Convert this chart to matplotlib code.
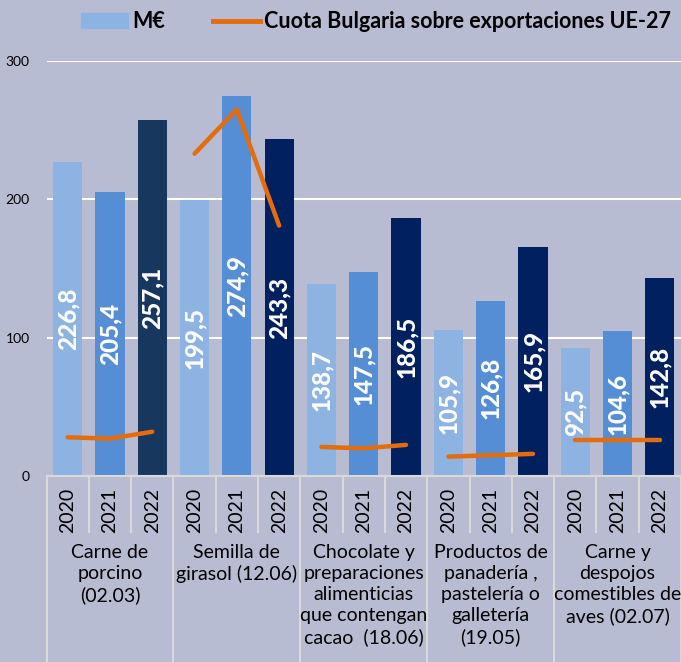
import matplotlib.pyplot as plt
import numpy as np

plt.rcParams['font.family'] = ['Lato', 'DejaVu Sans']

groups = ['Carne de\nporcino\n(02.03)',
          'Semilla de\ngirasol (12.06)',
          'Chocolate y\npreparaciones\nalimenticias\nque contengan\ncacao  (18.06)',
          'Productos de\npanadería ,\npastelería o\ngalletería\n(19.05)',
          'Carne y\ndespojos\ncomestibles de\naves (02.07)']
years = ['2020', '2021', '2022']
valores = [[226.8, 205.4, 257.1],
           [199.5, 274.9, 243.3],
           [138.7, 147.5, 186.5],
           [105.9, 126.8, 165.9],
           [92.5, 104.6, 142.8]]
cuota = [[28, 27, 32],
         [233, 265, 181],
         [21, 20, 22.5],
         [14, 15, 16],
         [26, 26, 26]]

bg = '#B8BCD2'
col_years = ['#8DB3E2', '#558ED5', '#002060']
col_first_2022 = '#17375E'
orange = '#E46C0A'
sep_col = '#D9D9D9'

fig = plt.figure(figsize=(6.81, 6.62), dpi=100)
fig.patch.set_facecolor(bg)
ax = fig.add_axes([46.5 / 681, 1 - 476 / 662, 634.5 / 681, 415 / 662])
ax.set_facecolor(bg)

for g, vals in enumerate(valores):
    xs = np.arange(3) + g * 3
    for k, v in enumerate(vals):
        c = col_years[k]
        if g == 0 and k == 2:
            c = col_first_2022
        ax.bar(xs[k], v, width=0.69, color=c, zorder=2)
        ax.text(xs[k], v / 2, f'{v:.1f}'.replace('.', ','), rotation=90,
                ha='center', va='center', color='white', fontsize=17.5,
                fontweight='black', zorder=4)
    ax.plot(xs, cuota[g], color=orange, lw=3.2, solid_capstyle='round', zorder=3)

ax.set_xlim(-0.5, 14.5)
ax.set_ylim(0, 300)
ax.set_yticks([0, 100, 200, 300])
ax.tick_params(axis='y', length=0, labelsize=10, pad=12)
ax.set_xticks([])
ax.grid(axis='y', color='white', lw=1.5, zorder=0)
for s in ax.spines.values():
    s.set_visible(False)

trans = ax.get_xaxis_transform()
ax.plot([-0.5, 14.5], [0, 0], color=sep_col, lw=1.5, transform=trans, clip_on=False)
for g in range(6):
    x = g * 3 - 0.5
    ax.plot([x, x], [0, -0.45], color=sep_col, lw=1.5, transform=trans, clip_on=False)
for g in range(5):
    for k in range(3):
        x = g * 3 + k
        ax.text(x, -0.083, years[k], rotation=90, ha='center', va='center',
                fontsize=14, transform=trans)
        if k > 0:
            ax.plot([x - 0.5, x - 0.5], [0, -0.135], color=sep_col, lw=1.5,
                    transform=trans, clip_on=False)
    ax.text(g * 3 + 1, -0.163, groups[g], ha='center', va='top', fontsize=14,
            linespacing=1.3, transform=trans)

h1 = plt.Rectangle((0, 0), 1, 1, color=col_years[0])
h2 = plt.Line2D([], [], color=orange, lw=3.5)
leg = fig.legend([h1, h2], ['M€', 'Cuota Bulgaria sobre exportaciones UE-27'],
                 loc='center', bbox_to_anchor=(376 / 681, 0.967), ncol=2,
                 frameon=False, handlelength=2.2, columnspacing=2.2,
                 handletextpad=0.2, prop={'weight': 'bold', 'size': 15.5})

fig.savefig('out.png', dpi=100, facecolor=bg)
